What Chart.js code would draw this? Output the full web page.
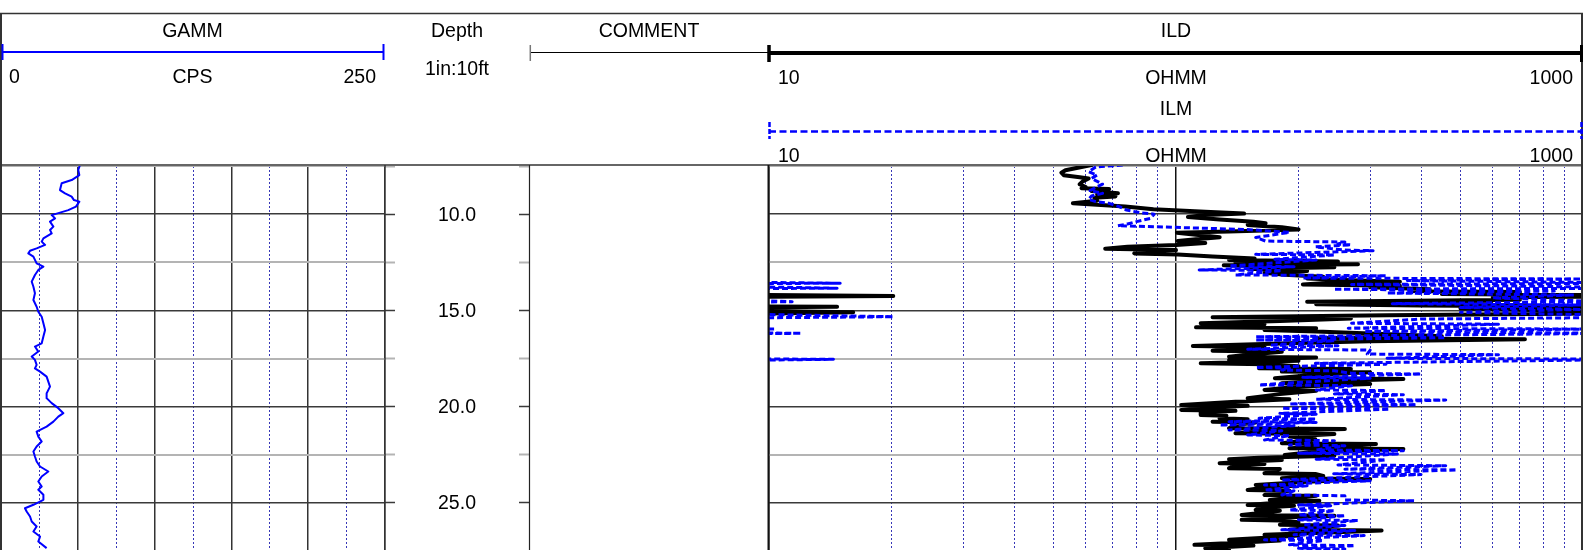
<!DOCTYPE html>
<html>
<head>
<meta charset="utf-8">
<script src="https://cdn.jsdelivr.net/npm/chart.js@4/dist/chart.umd.min.js"></script>
<style>
html,body{margin:0;padding:0;background:#fff;}
body{width:1583px;height:550px;overflow:hidden;position:relative;font-family:"Liberation Sans",Arial,sans-serif;}
canvas{position:absolute;}
svg{position:absolute;left:0;top:0;pointer-events:none;}
svg text{font-family:"Liberation Sans",Arial,sans-serif;font-size:19.5px;fill:#000;dominant-baseline:central;}
</style>
</head>
<body>
<canvas id="gamm" width="384" height="385" style="left:1px;top:166px;"></canvas>
<canvas id="depth" width="144" height="385" style="left:385px;top:166px;"></canvas>
<canvas id="ild" width="814" height="385" style="left:769px;top:166px;"></canvas>

<svg width="1583" height="550" viewBox="0 0 1583 550">
  <!-- outer frame -->
  <line x1="0" y1="13.5" x2="1583" y2="13.5" stroke="#333" stroke-width="1.5"/>
  <line x1="1" y1="13" x2="1" y2="550" stroke="#333" stroke-width="2"/>
  <line x1="1582" y1="13" x2="1582" y2="550" stroke="#333" stroke-width="2"/>
  <line x1="0" y1="165" x2="1583" y2="165" stroke="#333" stroke-width="1.5"/>
  <!-- track borders -->
  <line x1="385" y1="165" x2="385" y2="550" stroke="#333" stroke-width="1.5"/>
  <line x1="529.5" y1="165" x2="529.5" y2="550" stroke="#222" stroke-width="1.2"/>
  <line x1="768.5" y1="165" x2="768.5" y2="550" stroke="#111" stroke-width="2"/>
  <!-- GAMM scale bar -->
  <line x1="2" y1="52" x2="384" y2="52" stroke="#0000ff" stroke-width="2"/>
  <line x1="2.5" y1="44" x2="2.5" y2="60" stroke="#0000ff" stroke-width="2"/>
  <line x1="383.5" y1="44" x2="383.5" y2="60" stroke="#0000ff" stroke-width="2"/>
  <!-- COMMENT scale bar -->
  <line x1="530" y1="52.5" x2="769" y2="52.5" stroke="#000" stroke-width="1"/>
  <line x1="530.3" y1="45" x2="530.3" y2="61" stroke="#777" stroke-width="1.5"/>
  <!-- ILD scale bar -->
  <line x1="769" y1="53" x2="1583" y2="53" stroke="#000" stroke-width="4"/>
  <line x1="769" y1="45" x2="769" y2="62" stroke="#000" stroke-width="3.5"/>
  <line x1="1581.5" y1="45" x2="1581.5" y2="62" stroke="#000" stroke-width="3"/>
  <!-- ILM scale bar -->
  <line x1="769" y1="131.5" x2="1583" y2="131.5" stroke="#0000ff" stroke-width="2.5" stroke-dasharray="7 3.5"/>
  <line x1="769.5" y1="122" x2="769.5" y2="139" stroke="#0000ff" stroke-width="2.5" stroke-dasharray="5 2"/>
  <line x1="1581.5" y1="122" x2="1581.5" y2="139" stroke="#0000ff" stroke-width="2.5" stroke-dasharray="5 2"/>
  <!-- texts -->
  <text x="192.5" y="30" text-anchor="middle">GAMM</text>
  <text x="457" y="30" text-anchor="middle">Depth</text>
  <text x="649" y="30" text-anchor="middle">COMMENT</text>
  <text x="1176" y="30" text-anchor="middle">ILD</text>
  <text x="9" y="75.5" text-anchor="start">0</text>
  <text x="192.5" y="75.5" text-anchor="middle">CPS</text>
  <text x="376" y="75.5" text-anchor="end">250</text>
  <text x="457" y="68" text-anchor="middle">1in:10ft</text>
  <text x="778" y="76.5" text-anchor="start">10</text>
  <text x="1176" y="76.5" text-anchor="middle">OHMM</text>
  <text x="1573" y="76.5" text-anchor="end">1000</text>
  <text x="1176" y="108" text-anchor="middle">ILM</text>
  <text x="778" y="155" text-anchor="start">10</text>
  <text x="1176" y="155" text-anchor="middle">OHMM</text>
  <text x="1573" y="155" text-anchor="end">1000</text>
</svg>

<script>
// ---------------- DATA ----------------
const depthRange = [7.5, 27.5];            // ft shown in the window
const depthGridTicks = [7.5, 10, 12.5, 15, 17.5, 20, 22.5, 25, 27.5];
const depthMajorTicks = [10, 15, 20, 25];
const depthLabels = [10, 15, 20, 25];

const gammRange = [0, 250];
const gammMajorTicks = [0, 50, 100, 150, 200, 250];
const gammMinorTicks = [25, 75, 125, 175, 225];

const resRange = [10, 1000];
const resMajorTicks = [10, 100, 1000];
const resMinorTicks = [20, 30, 40, 50, 60, 70, 80, 90, 200, 300, 400, 500, 600, 700, 800, 900];

const gammDepth = [7.45,7.71,7.97,8.23,8.40,8.75,8.92,9.09,9.27,9.35,
  9.61,9.79,9.92,10.05,10.22,10.39,10.65,10.82,11.00,11.26,
  11.43,11.60,11.78,11.90,12.04,12.21,12.38,12.56,12.73,12.90,
  13.16,13.51,13.77,14.11,14.46,14.81,15.07,15.33,15.67,16.02,
  16.36,16.71,16.88,17.14,17.40,17.57,17.83,18.01,18.18,18.44,
  18.70,18.96,19.31,19.56,19.82,20.08,20.34,20.52,20.78,21.04,
  21.30,21.56,21.81,22.07,22.33,22.59,22.85,23.11,23.37,23.63,
  23.89,24.15,24.32,24.58,24.84,25.10,25.28,25.45,25.71,25.97,
  26.23,26.49,26.75,27.01,27.35];
const gammCps = [51.4,50.3,51.0,46.0,39.5,38.4,41.7,46.0,47.5,51.0,
  48.8,43.8,38.4,33.0,35.2,31.9,34.1,31.9,33.0,27.6,
  26.5,28.7,23.2,18.9,17.8,21.1,22.1,23.2,27.6,24.3,
  22.1,20.0,21.1,22.1,21.1,23.2,24.3,26.5,27.6,28.7,
  27.6,26.5,22.1,24.3,20.0,22.1,23.2,22.1,25.4,29.7,
  30.8,31.9,29.7,29.7,33.0,37.3,40.6,37.3,34.1,29.7,
  23.2,24.3,26.5,23.2,21.1,22.1,23.2,25.4,30.8,26.5,
  24.3,26.5,24.3,27.6,27.6,21.1,15.6,16.7,18.9,20.0,
  23.2,21.1,25.4,24.3,29.7];

const ildDepth = [7.45,7.6,7.72,7.85,7.98,8.08,8.15,8.3,8.45,8.6,
  8.66,8.7,8.8,8.92,8.98,9.08,9.15,9.3,9.44,9.6,
  9.75,9.88,9.97,10.05,10.15,10.28,10.4,10.47,10.56,10.68,
  10.8,10.9,10.97,11.1,11.2,11.3,11.4,11.5,11.6,11.7,
  11.8,11.87,11.95,12.04,12.1,12.2,12.3,12.38,12.46,12.52,
  12.6,12.66,12.76,12.84,12.95,13.05,13.15,13.25,13.35,13.45,
  13.51,13.55,13.65,13.72,13.8,13.9,14.0,14.05,14.15,14.25,
  14.32,14.45,14.55,14.6,14.68,14.75,14.81,14.9,15.0,15.1,
  15.18,15.25,15.36,15.42,15.55,15.67,15.72,15.88,15.93,16.02,
  16.1,16.2,16.35,16.45,16.5,16.6,16.7,16.85,16.9,17.0,
  17.1,17.15,17.3,17.41,17.45,17.58,17.62,17.75,17.8,17.9,
  18.01,18.05,18.18,18.22,18.35,18.53,18.57,18.65,18.79,18.83,
  18.95,19.13,19.17,19.35,19.57,19.62,19.75,19.91,19.96,20.05,
  20.17,20.22,20.3,20.43,20.47,20.61,20.65,20.78,20.82,20.95,
  21.12,21.16,21.25,21.38,21.42,21.55,21.7,21.9,21.94,22.05,
  22.16,22.2,22.35,22.51,22.55,22.65,22.73,22.77,22.85,22.94,
  22.98,23.08,23.2,23.24,23.35,23.46,23.5,23.6,23.72,23.76,
  23.9,24.07,24.11,24.2,24.33,24.37,24.47,24.59,24.63,24.72,
  24.85,24.89,24.98,25.11,25.15,25.25,25.37,25.41,25.5,25.63,
  25.67,25.75,25.88,25.92,26.0,26.14,26.18,26.28,26.4,26.44,
  26.55,26.66,26.7,26.8,26.92,26.96,27.05,27.18,27.22,27.3,
  27.36,27.4,27.5];
const ildOhmm = [62,57,53.5,52.3,53,58,61,59,58,60,
  58.6,68.5,62,72,64,71,63,64,55.8,75,
  88,118,147,118,107,128,155,166,150,182,
  200,135,100.5,115,128,112,101,118,100,76,
  67,100,80,79,101,123,156,135,250,140,
  280,131,245,150,210,165,185,230,210,280,
  355,244,205,355,300,420,380,700,450,2020,
  600,700,210,595,221,400,1470,500,800,1610,
  900,330,123,269,180,115,165,112,221,165,
  221,300,450,221,720,300,200,110,165,140,
  123,182,150,135,221,135,200,115,165,200,
  160,269,182,300,220,175,362,250,182,300,
  200,165,221,180,150,190,140,103,150,120,
  103,140,115,115,133,128,150,123,157,140,
  135,260,180,140,245,190,220,182,310,250,
  190,362,220,185,245,160,135,182,150,128,
  165,140,135,180,175,165,220,230,182,300,
  210,157,195,165,150,190,170,165,221,200,
  170,225,180,150,195,160,157,180,165,145,
  245,190,145,180,200,180,250,220,190,320,
  230,165,200,170,135,180,150,111,155,130,
  118,135,120];

const ilmDepth = [7.45,7.55,7.8,7.97,8.14,8.26,8.44,8.61,8.78,8.92,
  9.06,9.23,9.35,9.44,9.61,9.79,9.93,10.0,10.22,10.39,
  10.51,10.6,10.8,10.95,11.21,11.4,11.45,11.55,11.6,11.7,
  11.87,11.9,12.09,12.12,12.35,12.38,12.7,12.73,12.9,12.93,
  13.16,13.2,13.32,13.37,13.45,13.59,13.65,13.75,13.85,13.9,
  14.0,14.1,14.2,14.35,14.55,14.65,14.72,14.85,14.95,15.1,
  15.18,15.33,15.45,15.67,15.72,15.93,15.97,16.1,16.19,16.37,
  16.42,16.54,16.58,16.8,16.84,17.02,17.06,17.27,17.3,17.49,
  17.54,17.75,17.8,17.96,18.0,18.1,18.14,18.27,18.31,18.48,
  18.52,18.87,18.91,19.13,19.17,19.34,19.38,19.62,19.66,19.86,
  19.9,20.09,20.13,20.35,20.39,20.61,20.65,20.78,20.82,20.95,
  20.99,21.21,21.25,21.47,21.51,21.73,21.77,21.99,22.03,22.25,
  22.29,22.42,22.46,22.73,22.77,23.03,23.07,23.25,23.29,23.49,
  23.53,23.81,23.85,24.07,24.11,24.33,24.37,24.59,24.63,24.85,
  24.89,25.11,25.15,25.37,25.41,25.63,25.67,25.88,25.92,26.14,
  26.18,26.4,26.44,26.66,26.7,26.92,26.96,27.18,27.22,27.36,
  27.4,27.5];
const ilmOhmm = [74,63.5,61,64,62,63.5,66,63.5,61.5,66,
  62,61,63.5,68.5,72.5,75.6,82,88.4,86.5,80,
  76,72,150,190,157,166,260,250,269,220,
  260,305,157,245,175,221,135,195,114,182,
  140,328,205,990,370,1496,270,800,1470,244,
  850,330,950,600,1140,340,990,500,990,500,
  780,2020,400,270,620,265,1030,290,1200,157,
  460,157,245,170,250,150,300,295,620,330,
  1440,220,328,157,190,182,245,270,400,205,
  300,160,270,221,328,245,362,221,460,190,
  390,182,335,180,221,160,221,135,221,128,
  195,135,182,150,190,165,245,190,260,221,
  362,200,350,221,328,250,460,260,490,244,
  400,182,300,165,210,165,195,182,260,260,
  385,200,240,190,245,200,260,200,280,205,
  260,182,275,195,290,165,230,190,275,200,
  260,220];

// wrap-around factor of the resistivity backup scale (values above 1000 re-enter from the left)
const wrapFactor = 100;

// ---------------- CHARTS ----------------
Chart.defaults.font.family = '"Liberation Sans", Arial, sans-serif';
Chart.defaults.animation = false;

const pts = (ys, xs, f) => ys.map((d, i) => ({x: f ? f(xs[i]) : xs[i], y: d}));
const tickSetter = arr => (s => { s.ticks = arr.map(v => ({value: v})); });
const isMajorDepth = v => depthMajorTicks.includes(v);

function depthAxis(extra) {
  return Object.assign({
    type: 'linear', axis: 'y', min: depthRange[0], max: depthRange[1], reverse: true,
    afterBuildTicks: tickSetter(depthGridTicks),
    ticks: {display: false},
    border: {display: false},
    grid: {
      drawTicks: false,
      color: c => (c.tick && isMajorDepth(c.tick.value)) ? '#3a3a3a' : '#b4b4b4',
      lineWidth: c => (c.tick && isMajorDepth(c.tick.value)) ? 1.5 : 2
    }
  }, extra || {});
}
function valueAxis(type, range, ticks, color, width, dash) {
  return {
    type: type, axis: 'x', min: range[0], max: range[1],
    afterBuildTicks: tickSetter(ticks),
    ticks: {display: false},
    border: {display: false, dash: dash},
    grid: {drawTicks: false, color: color, lineWidth: width}
  };
}
const baseOpts = {
  responsive: false, animation: false, events: [],
  layout: {padding: 0},
  plugins: {legend: {display: false}, tooltip: {enabled: false}}
};

// GAMM track
new Chart(document.getElementById('gamm'), {
  type: 'scatter',
  data: {datasets: [{
    data: pts(gammDepth, gammCps),
    showLine: true, borderColor: '#0000ff', borderWidth: 2, pointRadius: 0,
    borderJoinStyle: 'round', tension: 0, xAxisID: 'x', yAxisID: 'y'
  }]},
  options: Object.assign({}, baseOpts, {
    scales: {
      x: valueAxis('linear', gammRange, gammMajorTicks, '#333', 1.5, []),
      x2: valueAxis('linear', gammRange, gammMinorTicks, 'rgba(20,20,170,0.85)', 1, [2, 2]),
      y: depthAxis()
    }
  })
});

// Depth track
const depthLabelPlugin = {
  id: 'depthLabels',
  afterDraw(chart) {
    const s = chart.scales.yl, a = chart.chartArea, ctx = chart.ctx;
    ctx.save();
    ctx.font = '19.5px "Liberation Sans", Arial, sans-serif';
    ctx.fillStyle = '#000';
    ctx.textAlign = 'center';
    ctx.textBaseline = 'middle';
    depthLabels.forEach(d => ctx.fillText(d.toFixed(1), (a.left + a.right) / 2, s.getPixelForValue(d) + 1));
    ctx.restore();
  }
};
function depthTickAxis(pos) {
  return depthAxis({
    position: pos,
    grid: {
      drawOnChartArea: false, drawTicks: true, tickLength: 10,
      tickColor: c => (c.tick && isMajorDepth(c.tick.value)) ? '#3a3a3a' : '#b4b4b4',
      tickWidth: c => (c.tick && isMajorDepth(c.tick.value)) ? 1.5 : 2
    }
  });
}
new Chart(document.getElementById('depth'), {
  type: 'scatter',
  data: {datasets: [{data: [], xAxisID: 'x', yAxisID: 'yl'}]},
  options: Object.assign({}, baseOpts, {
    scales: {
      x: {type: 'linear', display: false, min: 0, max: 1},
      yl: depthTickAxis('left'),
      yr: depthTickAxis('right')
    }
  }),
  plugins: [depthLabelPlugin]
});

// ILD / ILM track
const wrap = v => v / wrapFactor;
const ildStyle = {showLine: true, borderColor: '#000', borderWidth: 4, pointRadius: 0,
  borderJoinStyle: 'round', borderCapStyle: 'round', tension: 0, order: 1, xAxisID: 'x', yAxisID: 'y'};
const ilmStyle = {showLine: true, borderColor: '#0000ff', borderWidth: 3, borderDash: [6, 3], pointRadius: 0,
  borderJoinStyle: 'round', tension: 0, order: 0, xAxisID: 'x', yAxisID: 'y'};
new Chart(document.getElementById('ild'), {
  type: 'scatter',
  data: {datasets: [
    Object.assign({label: 'ILM', data: pts(ilmDepth, ilmOhmm)}, ilmStyle),
    Object.assign({label: 'ILM backup', data: pts(ilmDepth, ilmOhmm, wrap)}, ilmStyle),
    Object.assign({label: 'ILD', data: pts(ildDepth, ildOhmm)}, ildStyle),
    Object.assign({label: 'ILD backup', data: pts(ildDepth, ildOhmm, wrap)}, ildStyle)
  ]},
  options: Object.assign({}, baseOpts, {
    scales: {
      x: valueAxis('logarithmic', resRange, resMajorTicks, '#111', 1.5, []),
      x2: valueAxis('logarithmic', resRange, resMinorTicks, 'rgba(20,20,170,0.85)', 1, [2, 2]),
      y: depthAxis()
    }
  })
});
</script>
</body>
</html>
